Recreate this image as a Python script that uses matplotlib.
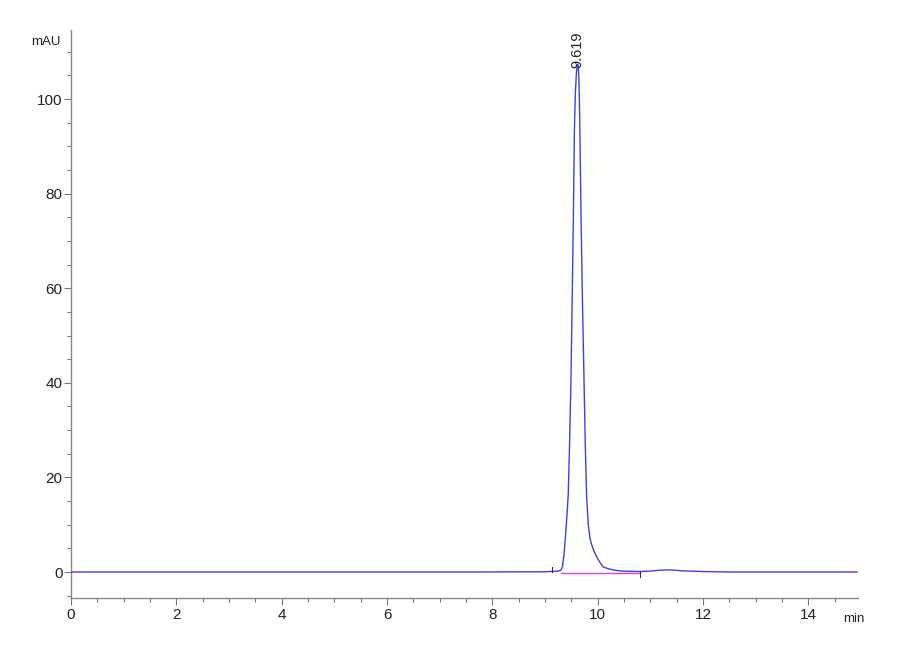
import matplotlib
matplotlib.use("Agg")
from matplotlib import pyplot as plt
from matplotlib.ticker import MultipleLocator

plt.rcParams['font.family'] = ['Liberation Sans', 'DejaVu Sans']

# chromatogram trace (min, mAU)
time_min = [0.0, 7.5, 9.0, 9.25, 9.30, 9.33, 9.36, 9.39, 9.415, 9.44,
            9.465, 9.49, 9.515, 9.537, 9.556, 9.575, 9.595, 9.61, 9.619,
            9.628, 9.64, 9.651, 9.667, 9.683, 9.71, 9.74, 9.765, 9.79,
            9.82, 9.854, 9.90, 9.95, 10.0, 10.05, 10.10, 10.18, 10.27,
            10.35, 10.45, 10.8, 11.0, 11.15, 11.3, 11.45, 11.6, 12.0,
            12.5, 15.0]
signal_mau = [0.0, 0.0, 0.05, 0.2, 0.4, 1.1, 3.8, 8.0, 12.0, 16.5,
              27.0, 40.0, 58.0, 75.0, 93.0, 101.5, 105.5, 107.0, 107.3,
              107.0, 105.0, 100.0, 88.0, 75.0, 57.0, 40.0, 26.0, 15.5,
              10.0, 7.0, 5.2, 3.9, 2.8, 1.9, 1.1, 0.75, 0.5,
              0.35, 0.2, 0.1, 0.2, 0.35, 0.45, 0.4, 0.25, 0.1,
              0.0, 0.0]

# integration
peak_rt = 9.619
peak_label = "9.619"
peak_start = 9.13
peak_end = 10.80
baseline_level = 0.0

x_ticks = [0, 2, 4, 6, 8, 10, 12, 14]
y_ticks = [0, 20, 40, 60, 80, 100]

fig = plt.figure(figsize=(9, 6.6), dpi=100)
ax = fig.add_axes([0.0789, 0.0939, 0.8744, 0.8606])

ax.plot(time_min, signal_mau, color="#4040e0", lw=1.0, zorder=3)
ax.plot([peak_start + 0.17, peak_end], [baseline_level - 0.15, baseline_level - 0.15],
        color="#e040e0", lw=1.0, zorder=2)
ax.plot([peak_start, peak_start], [baseline_level, baseline_level + 1.1],
        color="#333333", lw=0.8, zorder=4)
ax.plot([peak_end, peak_end], [baseline_level, baseline_level - 1.1],
        color="#333333", lw=0.8, zorder=4)

ax.text(peak_rt, 106.6, peak_label, rotation=90, ha="center", va="bottom",
        fontsize=10.5, color="#222222")

ax.set_xlim(0, 14.94)
ax.set_ylim(-5.5, 114.6)
ax.set_xticks(x_ticks)
ax.set_yticks(y_ticks)
ax.xaxis.set_minor_locator(MultipleLocator(0.5))
ax.yaxis.set_minor_locator(MultipleLocator(5))

for side in ["top", "right"]:
    ax.spines[side].set_visible(False)
for side in ["left", "bottom"]:
    ax.spines[side].set_color("#888888")
    ax.spines[side].set_linewidth(1.0)

ax.tick_params(which="major", direction="out", length=5, width=0.8,
               color="#777777", labelsize=11, labelcolor="#222222", pad=2)
ax.tick_params(axis="y", which="major", pad=1)
ax.tick_params(which="minor", direction="out", length=3, width=0.8,
               color="#777777")

ax.text(-0.2, 112.0, "mAU", ha="right", va="center", fontsize=9.5,
        color="#222222", clip_on=False)
ax.text(14.66, -9.9, "min", ha="left", va="center", fontsize=9.5,
        color="#222222", clip_on=False)

fig.savefig("out.png", dpi=100)
